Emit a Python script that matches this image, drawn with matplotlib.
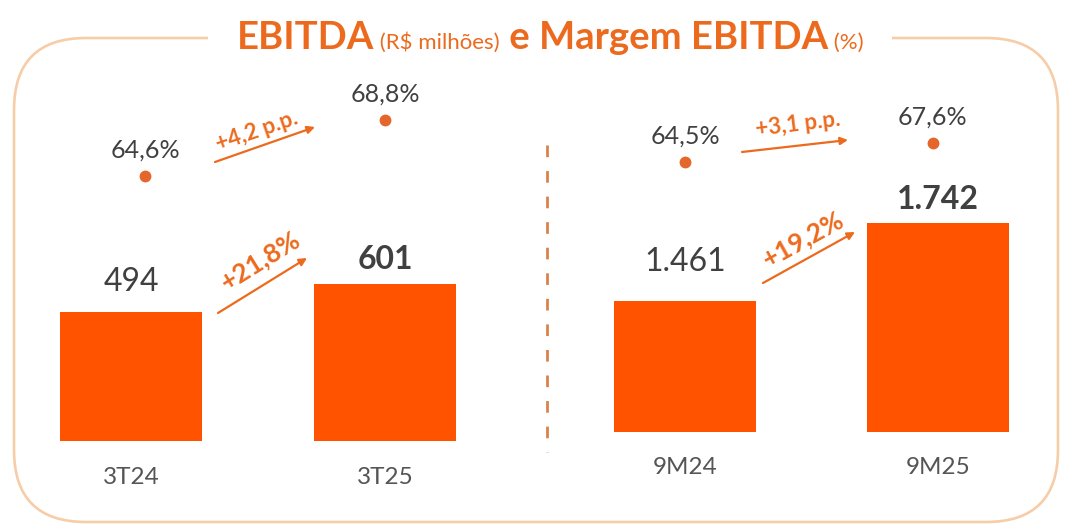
import matplotlib
matplotlib.use("Agg")
import matplotlib.pyplot as plt
from matplotlib.patches import FancyBboxPatch, Rectangle
from matplotlib.transforms import offset_copy

plt.rcParams['font.family'] = ['Lato', 'DejaVu Sans']

# ---------------- data ----------------
q_categories = ["3T24", "3T25"]
q_ebitda = [494, 601]
q_margin = [64.6, 68.8]
q_ebitda_labels = ["494", "601"]
q_margin_labels = ["64,6%", "68,8%"]
q_growth_label = "+21,8%"
q_margin_delta_label = "+4,2 p.p."

y_categories = ["9M24", "9M25"]
y_ebitda = [1461, 1742]
y_margin = [64.5, 67.6]
y_ebitda_labels = ["1.461", "1.742"]
y_margin_labels = ["64,5%", "67,6%"]
y_growth_label = "+19,2%"
y_margin_delta_label = "+3,1 p.p."

title_parts = [("EBITDA", "bold", 27.5), (" (R$ milhões)", "normal", 16),
               (" e Margem EBITDA", "bold", 27.5), (" (%)", "normal", 16)]

# ---------------- styles ----------------
BAR = "#FF5300"
DOT = "#E4662A"
ACC = "#EC6A1E"
TXT = "#404040"
CAT = "#555555"
BORDER = "#F7CDA8"
W, H = 1067, 527

fig = plt.figure(figsize=(W / 100, H / 100), dpi=100)
fig.patch.set_facecolor("white")

def rect(x0, top, x1, bottom):
    return [x0 / W, 1 - bottom / H, (x1 - x0) / W, (bottom - top) / H]

# decoration axes in pixel units
deco = fig.add_axes([0, 0, 1, 1])
deco.set_xlim(0, W)
deco.set_ylim(H, 0)
deco.axis("off")
deco.patch.set_visible(False)

border = FancyBboxPatch((14, 38), 1044, 484, boxstyle="round,pad=0,rounding_size=72",
                        fc="none", ec=BORDER, lw=1.9, zorder=1)
deco.add_patch(border)
deco.add_patch(Rectangle((208, 20), 684, 35, fc="white", ec="none", zorder=2))
deco.plot([547, 547], [145, 452], color="#D9834A", lw=2.0,
          linestyle=(0, (4.2, 5.0)), zorder=2)

# title built from parts
renderer = fig.canvas.get_renderer()
texts = []
for s, wgt, sz in title_parts:
    t = deco.text(0, 37, s, fontsize=sz, fontweight=wgt, color=ACC,
                  ha="left", va="baseline", zorder=3)
    texts.append(t)
widths = [t.get_window_extent(renderer).width for t in texts]
x = 550 - sum(widths) / 2
for t, w in zip(texts, widths):
    t.set_position((x, 49))
    x += w

def panel(r, xlim, ylim, mlim, cats, vals, vlabels, voff, catoff, margins, mlabels, mdx):
    ax = fig.add_axes(r)
    ax.set_xlim(*xlim)
    ax.set_ylim(*ylim)
    ax.axis("off")
    ax.patch.set_visible(False)
    xs = list(range(len(cats)))
    ax.bar(xs, vals, width=0.56, color=BAR, zorder=2)
    for i, (v, lab) in enumerate(zip(vals, vlabels)):
        ax.annotate(lab, xy=(i, v), xytext=(0, voff[i] * 0.72), textcoords="offset points",
                    ha="center", va="center", fontsize=23, color=TXT,
                    fontweight="bold" if i == 1 else "normal")
        ax.annotate(cats[i], xy=(i, 0), xycoords=("data", "axes fraction"),
                    xytext=(0, -catoff * 0.72), textcoords="offset points",
                    ha="center", va="center", fontsize=17.5, color=CAT)
    ax2 = ax.twinx()
    ax2.set_ylim(*mlim)
    ax2.axis("off")
    for i, (m, lab) in enumerate(zip(margins, mlabels)):
        tr = offset_copy(ax2.transData, fig=fig, x=mdx[i], y=0, units="dots")
        ax2.plot([i], [m], "o", ms=7.5, color=DOT, transform=tr, zorder=3)
        ax2.annotate(lab, xy=(i, m), xycoords=tr, xytext=(0, 26 * 0.72),
                     textcoords="offset points", ha="center", va="center",
                     fontsize=18, color=TXT)
    return ax

panel(rect(20, 40, 520, 441), (-0.437, 1.531), (0, 1530.5), (44.72, 74.8),
      q_categories, q_ebitda, q_ebitda_labels, [30, 24], 36,
      q_margin, q_margin_labels, [14, 0])
panel(rect(560, 40, 1050, 432), (-0.494, 1.443), (989, 2401), (20.45, 84.4),
      y_categories, y_ebitda, y_ebitda_labels, [39, 23], 36,
      y_margin, y_margin_labels, [0, -5])

# growth arrows and labels (pixel positions)
def arrow(p0, p1):
    deco.annotate("", xy=p1, xytext=p0,
                  arrowprops=dict(arrowstyle="-|>", color=ACC, lw=1.6,
                                  mutation_scale=11, shrinkA=0, shrinkB=0), zorder=4)

arrow((215, 162), (315, 127))
deco.text(257, 131, q_margin_delta_label, rotation=19, rotation_mode="anchor",
          ha="center", va="center", fontsize=16, fontweight="bold", color=ACC)
arrow((218, 313), (307, 258))
deco.text(260, 260, q_growth_label, rotation=32, rotation_mode="anchor",
          ha="center", va="center", fontsize=19, fontweight="bold", color=ACC)
arrow((742, 152), (848, 140))
deco.text(798, 124, y_margin_delta_label, rotation=7, rotation_mode="anchor",
          ha="center", va="center", fontsize=16, fontweight="bold", color=ACC)
arrow((763, 283), (855, 232))
deco.text(803, 239, y_growth_label, rotation=29, rotation_mode="anchor",
          ha="center", va="center", fontsize=19, fontweight="bold", color=ACC)

fig.savefig("out.png", dpi=100, facecolor="white")
